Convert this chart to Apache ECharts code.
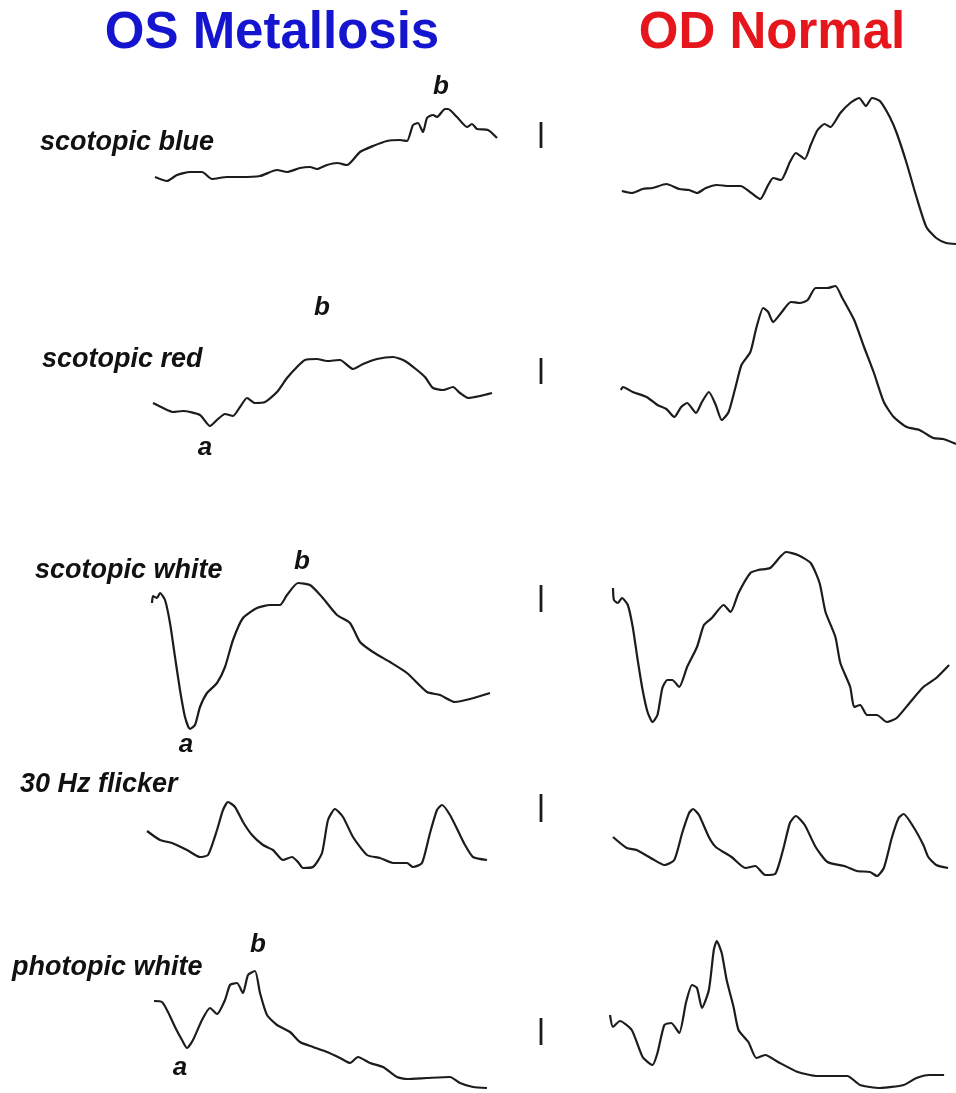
<!DOCTYPE html>
<html><head><meta charset="utf-8">
<script src="https://cdn.jsdelivr.net/npm/echarts@6/dist/echarts.min.js"></script>
<style>html,body{margin:0;padding:0;background:#fff}#c{width:956px;height:1093px}</style>
</head><body><div id="c"></div>
<script>
// Column titles and row (stimulus) labels
const columnTitles = ['OS Metallosis', 'OD Normal'];
const rowLabels = ['scotopic blue', 'scotopic red', 'scotopic white', '30 Hz flicker', 'photopic white'];

// Traces: [time, amplitude] (arbitrary units)
const osScotBlue = [[5,73],[17,69],[27,75],[40,78],[52,78],[62,71],[77,73],[90,73],[110,74],[127,80],[137,78],[150,82],[160,83],[167,81],[177,85],[187,87],[197,85],[210,98],[223,104],[237,109],[250,110],[257,109],[263,125],[268,127],[273,118],[277,132],[283,135],[287,133],[295,141],[298,141],[307,133],[317,123],[322,126],[327,121],[338,120],[347,112]];
const odScotBlue = [[12,59],[22,57],[33,61],[43,62],[57,66],[70,61],[80,60],[88,57],[97,62],[108,65],[120,64],[132,64],[143,57],[152,51],[160,65],[165,72],[173,70],[182,88],[188,97],[197,91],[203,105],[210,120],[217,126],[223,123],[233,137],[243,147],[252,152],[259,144],[265,152],[273,149],[283,133],[290,117],[300,87],[310,53],[320,23],[330,12],[340,7],[350,6]];
const osScotRed = [[3,47],[13,42],[23,38],[33,39],[50,35],[60,24],[68,31],[75,36],[83,34],[90,43],[97,52],[105,47],[115,48],[127,58],[137,72],[147,83],[155,90],[167,91],[177,89],[190,90],[203,81],[213,86],[227,91],[243,93],[255,89],[267,80],[275,73],[283,62],[293,60],[303,63],[310,57],[318,52],[330,54],[342,57]];
const odScotRed = [[11,60],[13,63],[23,58],[37,53],[48,45],[57,41],[65,33],[72,43],[78,47],[87,37],[93,48],[100,58],[107,45],[113,30],[120,38],[127,63],[133,85],[142,98],[148,122],[155,142],[160,138],[165,128],[173,137],[183,148],[192,147],[200,150],[208,162],[220,162],[228,164],[235,152],[247,130],[257,103],[267,77],[277,48],[287,33],[300,23],[313,20],[327,12],[337,11],[350,6]];
const osScotWhite = [[2,137],[3,144],[7,142],[10,147],[15,140],[20,117],[25,83],[30,50],[35,23],[40,11],[45,15],[50,33],[57,47],[67,57],[75,73],[83,100],[93,122],[107,132],[120,135],[130,135],[137,145],[148,157],[160,155],[172,143],[187,125],[200,117],[210,98],[223,88],[240,78],[257,67],[277,48],[290,45],[305,38],[320,41],[340,47]];
const odScotWhite = [[3,152],[4,140],[8,137],[12,142],[18,135],[23,113],[28,80],[33,50],[38,28],[43,18],[48,25],[53,52],[58,60],[63,60],[70,53],[78,73],[88,93],[95,115],[103,122],[115,135],[122,128],[130,147],[142,167],[150,170],[162,172],[172,183],[178,188],[190,185],[203,177],[212,157],[218,128],[228,103],[233,77],[243,53],[247,33],[253,35],[260,25],[270,25],[280,18],[290,22],[303,37],[317,53],[330,62],[343,75]];
const osFlicker = [[-3,49],[10,40],[22,37],[37,30],[50,23],[58,25],[67,50],[73,70],[78,78],[85,73],[93,58],[102,45],[113,35],[123,30],[133,20],[142,23],[148,18],[153,12],[163,13],[172,27],[178,60],[185,71],[193,63],[203,43],[217,25],[230,22],[243,17],[257,17],[263,13],[272,17],[280,47],[287,70],[292,75],[300,65],[310,45],[315,35],[323,23],[337,20]];
const odFlicker = [[3,43],[17,32],[27,30],[43,21],[55,15],[65,20],[73,47],[80,67],[84,71],[90,65],[100,43],[107,33],[123,23],[137,12],[147,14],[157,5],[167,6],[175,30],[182,57],[188,64],[197,55],[208,33],[220,18],[237,14],[250,9],[263,8],[270,4],[277,12],[285,42],[292,62],[297,66],[307,53],[317,35],[322,23],[330,15],[342,12]];
const osPhotWhite = [[4,89],[12,88],[18,78],[25,63],[32,50],[37,42],[43,50],[52,70],[60,82],[67,76],[75,90],[80,105],[87,107],[93,97],[98,115],[105,119],[110,97],[117,75],[127,65],[140,58],[150,48],[163,43],[177,38],[190,32],[200,27],[208,33],[220,27],[233,23],[247,13],[257,11],[277,12],[300,13],[310,7],[323,3],[337,2]];
const odPhotWhite = [[0,75],[3,63],[10,69],[22,60],[33,33],[43,25],[48,37],[55,65],[62,67],[70,57],[77,88],[83,105],[88,102],[93,82],[100,100],[105,140],[108,149],[113,137],[118,110],[125,83],[130,60],[140,48],[148,32],[157,35],[170,28],[190,18],[210,14],[240,14],[253,5],[273,2],[297,5],[310,12],[323,15],[338,15]];

// Calibration bars: [time, amplitude] end points, one per row
const calBar1 = [[391,102],[391,128]];
const calBar2 = [[391,66],[391,92]];
const calBar3 = [[391,128],[391,155]];
const calBar4 = [[391,58],[391,86]];
const calBar5 = [[391,45],[391,72]];

const leftTraces = [osScotBlue, osScotRed, osScotWhite, osFlicker, osPhotWhite];
const rightTraces = [odScotBlue, odScotRed, odScotWhite, odFlicker, odPhotWhite];
const calBars = [calBar1, calBar2, calBar3, calBar4, calBar5];

// Layout (styling only)
const rowTop = [90, 280, 540, 790, 930];
const rowH = [160, 170, 200, 90, 160];
const labelPos = [[40,143],[42,360],[35,571],[20,785],[12,968]];
const peakLabels = [['b',441,87],['b',322,308],['a',205,448],['b',302,562],['a',186,745],['b',258,945],['a',180,1068]];

const grids = [], xAxes = [], yAxes = [], series = [];
const lineStyle = {color:'#1c1c1c', width:2.2};
for (let r = 0; r < 5; r++) {
  grids.push({left:140, top:rowTop[r], width:410, height:rowH[r]});
  grids.push({left:610, top:rowTop[r], width:350, height:rowH[r]});
  xAxes.push({type:'value', gridIndex:2*r, min:-10, max:400, show:false});
  xAxes.push({type:'value', gridIndex:2*r+1, min:0, max:350, show:false});
  yAxes.push({type:'value', gridIndex:2*r, min:0, max:rowH[r], show:false});
  yAxes.push({type:'value', gridIndex:2*r+1, min:0, max:rowH[r], show:false});
  series.push({type:'line', xAxisIndex:2*r, yAxisIndex:2*r, data:leftTraces[r], showSymbol:false, smooth:0.2, lineStyle:lineStyle, clip:false});
  series.push({type:'line', xAxisIndex:2*r+1, yAxisIndex:2*r+1, data:rightTraces[r], showSymbol:false, smooth:0.2, lineStyle:lineStyle, clip:false});
  series.push({type:'line', xAxisIndex:2*r, yAxisIndex:2*r, data:calBars[r], showSymbol:false, lineStyle:{color:'#1c1c1c', width:2.8}});
}

const titleFont = 'bold 51px "Liberation Sans", Arial, sans-serif';
const graphics = [
  {type:'text', style:{text:columnTitles[0], x:272, y:34, align:'center', verticalAlign:'middle', fill:'#1515d0', font:titleFont}},
  {type:'text', style:{text:columnTitles[1], x:772, y:34, align:'center', verticalAlign:'middle', fill:'#e5161c', font:titleFont}}
];
for (let r = 0; r < 5; r++) {
  graphics.push({type:'text', style:{text:rowLabels[r], x:labelPos[r][0], y:labelPos[r][1], align:'left', verticalAlign:'middle', fill:'#111', font:'italic bold 27px "Liberation Sans", Arial, sans-serif'}});
}
peakLabels.forEach(p => graphics.push({type:'text', style:{text:p[0], x:p[1], y:p[2], align:'center', verticalAlign:'middle', fill:'#111', font:'italic bold 26px "Liberation Sans", Arial, sans-serif'}}));

const chart = echarts.init(document.getElementById('c'), null, {renderer:'canvas'});
chart.setOption({animation:false, backgroundColor:'#fff', grid:grids, xAxis:xAxes, yAxis:yAxes, series:series, graphic:graphics});
</script></body></html>
